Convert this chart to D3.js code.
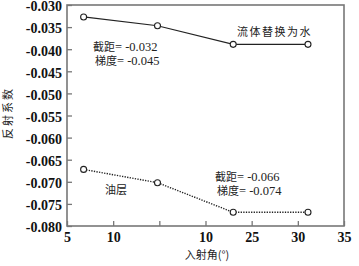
<!DOCTYPE html>
<html><head><meta charset="utf-8">
<script src="https://cdn.jsdelivr.net/npm/d3@7"></script>
<style>body{margin:0;background:#fff}svg{display:block}</style>
</head><body><svg id="c" width="359" height="266"></svg>
<script>
const angles = [6.8, 14.8, 23.0, 31.1];
const waterSeries = [-0.0327, -0.0347, -0.0389, -0.0389];
const oilSeries = [-0.0672, -0.0702, -0.0769, -0.0769];
const xTicks = [5, 10, 15, 20, 25, 30, 35];
const xTickLabels = ["5", "10", "", "10", "25", "30", "35"];
const yTicks = [-0.030, -0.035, -0.040, -0.045, -0.050, -0.055, -0.060, -0.065, -0.070, -0.075, -0.080];

const svg = d3.select("#c");
const m = {l: 67, r: 15, t: 5, b: 40};
const W = 359, H = 266;
const x = d3.scaleLinear().domain([5, 35]).range([m.l, W - m.r]);
const y = d3.scaleLinear().domain([-0.080, -0.030]).range([H - m.b, m.t]);
const serif = "'Liberation Serif','Times New Roman',serif";
const cjk = "'Noto Sans CJK SC','Noto Sans CJK JP',sans-serif";
const frame = "#777";

const gx = svg.append("g").attr("transform", `translate(0,${H - m.b})`)
  .call(d3.axisBottom(x).tickValues(xTicks).tickSize(-5).tickPadding(6)
    .tickFormat((d, i) => xTickLabels[i]));
const gy = svg.append("g").attr("transform", `translate(${m.l},0)`)
  .call(d3.axisLeft(y).tickValues(yTicks).tickSize(-5).tickPadding(5)
    .tickFormat(d3.format(".3f")));
[gx, gy].forEach(g => {
  g.select(".domain").remove();
  g.selectAll("line").attr("stroke", frame).attr("stroke-width", 1.3);
  g.selectAll("text").attr("font-family", serif).attr("font-size", 14)
    .attr("fill", "#111").attr("font-weight", "bold");
});
gy.selectAll("text").text(d => d3.format(".3f")(d).replace("−", "-")).attr("dy", "0.42em");

svg.append("rect").attr("x", m.l).attr("y", m.t)
  .attr("width", W - m.r - m.l).attr("height", H - m.b - m.t)
  .attr("fill", "none").attr("stroke", frame).attr("stroke-width", 1.6);

const line = d3.line().x(d => x(d[0])).y(d => y(d[1]));
const wData = angles.map((a, i) => [a, waterSeries[i]]);
const oData = angles.map((a, i) => [a, oilSeries[i]]);
svg.append("path").datum(wData).attr("d", line).attr("fill", "none")
  .attr("stroke", "#222").attr("stroke-width", 1.2);
svg.append("path").datum(oData).attr("d", line).attr("fill", "none")
  .attr("stroke", "#222").attr("stroke-width", 1.4).attr("stroke-dasharray", "1.3,1.3");
[wData, oData].forEach(dd => {
  svg.append("g").selectAll("circle").data(dd).join("circle")
    .attr("cx", d => x(d[0])).attr("cy", d => y(d[1])).attr("r", 3)
    .attr("fill", "#fff").attr("stroke", "#222").attr("stroke-width", 1.1);
});

function txt(xx, yy, s, opts = {}) {
  return svg.append("text").attr("x", xx).attr("y", yy).text(s)
    .attr("font-family", opts.f || cjk).attr("font-size", opts.s || 11)
    .attr("fill", "#222").attr("letter-spacing", opts.ls || 0)
    .attr("text-anchor", opts.a || "start");
}
txt(237, 36, "流体替换为水", {ls: 1.5});
function stat(xx, yy, label, val) {
  const t = svg.append("text").attr("x", xx).attr("y", yy).attr("fill", "#222").attr("font-size", 11);
  t.append("tspan").attr("font-family", cjk).text(label);
  t.append("tspan").attr("font-family", serif).attr("font-size", 12.5).text("= " + val);
}
stat(93, 51, "截距", "-0.032");
stat(95, 65, "梯度", "-0.045");
stat(215, 181, "截距", "-0.066");
stat(217, 195, "梯度", "-0.074");
txt(105, 194, "油层");

txt(207, 259, "入射角(°)", {a: "middle"});
svg.append("text").attr("transform", "translate(12,113) rotate(-90)")
  .attr("text-anchor", "middle").attr("font-family", cjk).attr("font-size", 11)
  .attr("letter-spacing", 2).attr("fill", "#222").text("反射系数");
</script></body></html>
